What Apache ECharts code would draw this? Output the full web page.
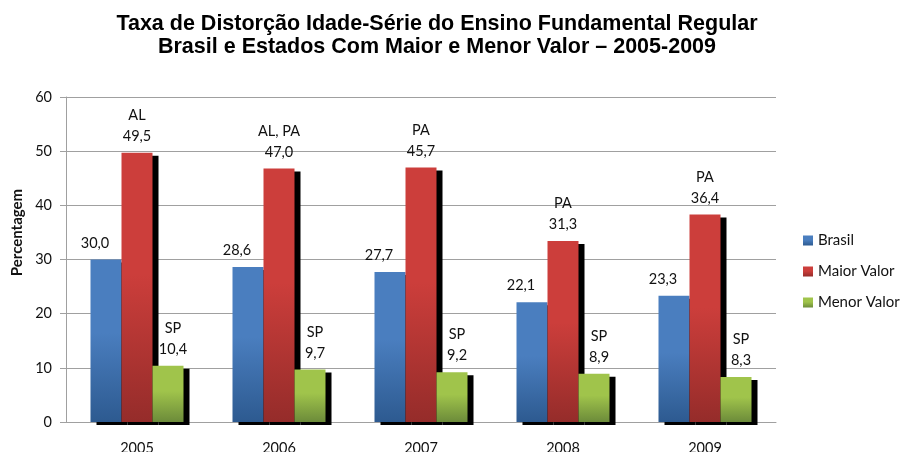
<!DOCTYPE html>
<html>
<head>
<meta charset="utf-8">
<script src="https://cdn.jsdelivr.net/npm/echarts@6/dist/echarts.min.js"></script>
<style>
  html, body { margin: 0; padding: 0; background: #fff; }
  #chart { width: 904px; height: 452px; }
</style>
</head>
<body>
<div id="chart"></div>
<script>
// dados
var anos = ['2005', '2006', '2007', '2008', '2009']
var brasil = [30.0, 28.6, 27.7, 22.1, 23.3]
// altura das barras como desenhadas no grafico original
var maiorBarra = [49.7, 46.8, 47.0, 33.4, 38.3]
// valores escritos nos rotulos
var maiorValor = [49.5, 47.0, 45.7, 31.3, 36.4]
var maiorUF = ['AL', 'AL, PA', 'PA', 'PA', 'PA']
var menor = [10.4, 9.7, 9.2, 8.9, 8.3]
var menorUF = ['SP', 'SP', 'SP', 'SP', 'SP']
var yTicks = [0, 10, 20, 30, 40, 50, 60]

function fmt (v) {
  return v.toFixed(1).replace('.', ',')
}

function grad (top, bottom) {
  return new echarts.graphic.LinearGradient(0, 0, 0, 1, [
    { offset: 0, color: top },
    { offset: 0.45, color: top },
    { offset: 1, color: bottom }
  ])
}

var labelFont = {
  show: true,
  position: 'top',
  distance: 6,
  fontFamily: 'Lato',
  fontSize: 14.5,
  lineHeight: 21,
  color: '#111'
}

var sombra = {
  shadowColor: '#000',
  shadowBlur: 0,
  shadowOffsetX: 6,
  shadowOffsetY: 3
}

var chart = echarts.init(document.getElementById('chart'))
var option = {
  animation: false,
  title: {
    text: 'Taxa de Distorção Idade-Série do Ensino Fundamental Regular\nBrasil e Estados Com Maior e Menor Valor – 2005-2009',
    left: 437,
    top: 13,
    textAlign: 'center',
    padding: 0,
    textStyle: {
      fontFamily: 'Liberation Sans',
      fontWeight: 'bold',
      fontSize: 21.5,
      lineHeight: 23,
      color: '#000'
    }
  },
  legend: {
    orient: 'vertical',
    left: 803,
    top: 232,
    padding: 0,
    itemWidth: 10,
    itemHeight: 10,
    itemGap: 14,
    icon: 'rect',
    textStyle: {
      fontFamily: 'Lato',
      fontSize: 15,
      lineHeight: 17,
      color: '#111'
    },
    data: ['Brasil', 'Maior Valor', 'Menor Valor']
  },
  grid: {
    left: 66,
    right: 128,
    top: 97,
    bottom: 30,
    containLabel: false,
    outerBoundsMode: 'none'
  },
  xAxis: {
    type: 'category',
    data: anos,
    axisLine: { lineStyle: { color: '#a0a0a0', width: 1 } },
    axisTick: { show: false },
    axisLabel: {
      margin: 19,
      fontFamily: 'Lato',
      fontSize: 14.5,
      color: '#111'
    }
  },
  yAxis: {
    type: 'value',
    min: yTicks[0],
    max: yTicks[yTicks.length - 1],
    interval: 10,
    name: 'Percentagem',
    nameLocation: 'middle',
    nameRotate: 90,
    nameGap: 41,
    nameTextStyle: {
      fontFamily: 'Lato',
      fontWeight: 'bold',
      fontSize: 15,
      color: '#111',
      padding: [0, 0, 0, 54]
    },
    axisLine: { show: true, lineStyle: { color: '#a0a0a0' } },
    axisTick: { show: true, length: 6, lineStyle: { color: '#a0a0a0' } },
    axisLabel: {
      margin: 14,
      fontFamily: 'Lato',
      fontSize: 14.5,
      color: '#111'
    },
    splitLine: { lineStyle: { color: '#a0a0a0', width: 1 } }
  },
  series: [
    {
      name: 'Brasil',
      type: 'bar',
      barWidth: 31,
      barGap: '0%',
      data: brasil,
      itemStyle: Object.assign({ color: grad('#4a7ebf', '#2d5a90') }, sombra),
      label: Object.assign({}, labelFont, {
        offset: [-11, 0],
        formatter: function (p) { return fmt(brasil[p.dataIndex]) }
      })
    },
    {
      name: 'Maior Valor',
      type: 'bar',
      barWidth: 31,
      barGap: '0%',
      data: maiorBarra,
      itemStyle: Object.assign({ color: grad('#cc3e3b', '#952c2a') }, sombra),
      label: Object.assign({}, labelFont, {
        formatter: function (p) {
          return maiorUF[p.dataIndex] + '\n' + fmt(maiorValor[p.dataIndex])
        }
      })
    },
    {
      name: 'Menor Valor',
      type: 'bar',
      barWidth: 31,
      barGap: '0%',
      data: menor,
      itemStyle: Object.assign({ color: grad('#a0c44b', '#6c8b3a') }, sombra),
      label: Object.assign({}, labelFont, {
        offset: [5, 0],
        formatter: function (p) {
          return menorUF[p.dataIndex] + '\n' + fmt(menor[p.dataIndex])
        }
      })
    }
  ]
}
chart.setOption(option)
</script>
</body>
</html>
